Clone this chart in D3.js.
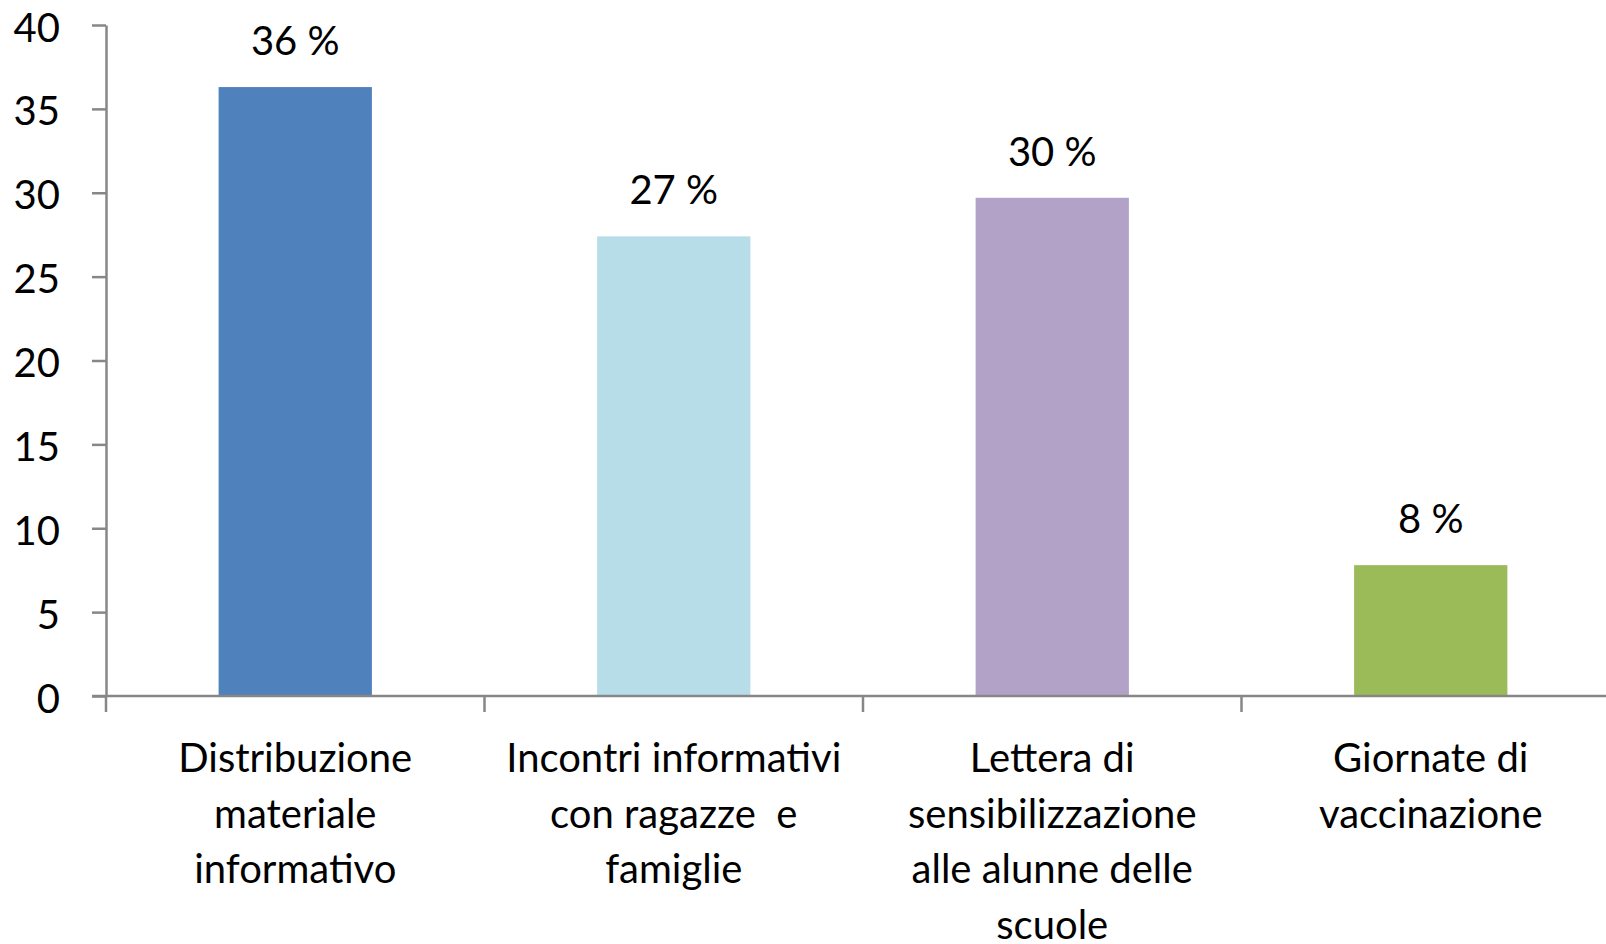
<!DOCTYPE html>
<html lang="it">
<head>
<meta charset="utf-8">
<title>Iniziative</title>
<script src="https://cdn.jsdelivr.net/npm/d3@7"></script>
<style>
  body { margin: 0; background: #fff; }
  text { font-family: Lato, "Open Sans", sans-serif; fill: #000; }
</style>
</head>
<body>
<script>
var categories = [
  ["Distribuzione", "materiale", "informativo"],
  ["Incontri informativi", "con ragazze  e", "famiglie"],
  ["Lettera di", "sensibilizzazione", "alle alunne delle", "scuole"],
  ["Giornate di", "vaccinazione"]
];
var values = [36.3, 27.4, 29.7, 7.8];
var valueLabels = ["36 %", "27 %", "30 %", "8 %"];
var colors = ["#4f81bd", "#b7dde8", "#b2a2c7", "#9bbb59"];
var yTicks = [0, 5, 10, 15, 20, 25, 30, 35, 40];

var w = 1606, h = 944;
var mLeft = 106, mRight = 1620, mTop = 25, mBottom = 696;
var fs = "40px";

var svg = d3.select("body").append("svg")
  .attr("width", w)
  .attr("height", h);

var x = d3.scaleBand()
  .domain(d3.range(values.length))
  .range([mLeft, mRight])
  .paddingInner(0)
  .paddingOuter(0);

var y = d3.scaleLinear()
  .domain([0, 40])
  .range([mBottom, mTop]);

var barW = x.bandwidth() * 0.405;

// bars
svg.selectAll("rect.bar")
  .data(values)
  .enter()
  .append("rect")
  .attr("class", "bar")
  .attr("x", function(d, i) { return x(i) + x.bandwidth() / 2 - barW / 2; })
  .attr("y", function(d) { return y(d); })
  .attr("width", barW)
  .attr("height", function(d) { return y(0) - y(d); })
  .attr("fill", function(d, i) { return colors[i]; });

// value labels
svg.selectAll("text.val")
  .data(values)
  .enter()
  .append("text")
  .attr("class", "val")
  .attr("x", function(d, i) { return x(i) + x.bandwidth() / 2; })
  .attr("y", function(d) { return y(d) - 32; })
  .attr("text-anchor", "middle")
  .attr("font-size", fs)
  .text(function(d, i) { return valueLabels[i]; });

// y axis
var yAxis = svg.append("g")
  .attr("transform", "translate(" + mLeft + ",0)")
  .call(d3.axisLeft(y).tickValues(yTicks).tickSize(14).tickSizeOuter(0).tickPadding(32));
yAxis.select(".domain").attr("stroke", "#878787").attr("stroke-width", 2.5);
yAxis.selectAll(".tick line").attr("stroke", "#878787").attr("stroke-width", 2.5);
yAxis.selectAll(".tick text")
  .attr("font-size", fs)
  .attr("font-family", "Lato, sans-serif")
  .attr("fill", "#000")
  .attr("dy", "0.4em");

// x axis: line plus ticks at category boundaries
var xa = svg.append("g").attr("class", "xaxis");
xa.append("line")
  .attr("x1", mLeft - 14).attr("x2", w)
  .attr("y1", y(0)).attr("y2", y(0))
  .attr("stroke", "#878787").attr("stroke-width", 2.5);
xa.selectAll("line.bt")
  .data(d3.range(values.length + 1))
  .enter()
  .append("line")
  .attr("class", "bt")
  .attr("x1", function(i) { return mLeft + i * x.step(); })
  .attr("x2", function(i) { return mLeft + i * x.step(); })
  .attr("y1", y(0))
  .attr("y2", y(0) + 16)
  .attr("stroke", "#878787").attr("stroke-width", 2.5);

// category labels
var cat = svg.selectAll("text.cat")
  .data(categories)
  .enter()
  .append("text")
  .attr("class", "cat")
  .attr("text-anchor", "middle")
  .attr("font-size", fs)
  .attr("x", function(d, i) { return x(i) + x.bandwidth() / 2; })
  .attr("y", y(0) + 76);
cat.selectAll("tspan")
  .data(function(d) { return d; })
  .enter()
  .append("tspan")
  .attr("x", function() { return d3.select(this.parentNode).attr("x"); })
  .attr("dy", function(d, j) { return j === 0 ? 0 : 55.5; })
  .style("white-space", "pre")
  .text(function(d) { return d; });
</script>
</body>
</html>
